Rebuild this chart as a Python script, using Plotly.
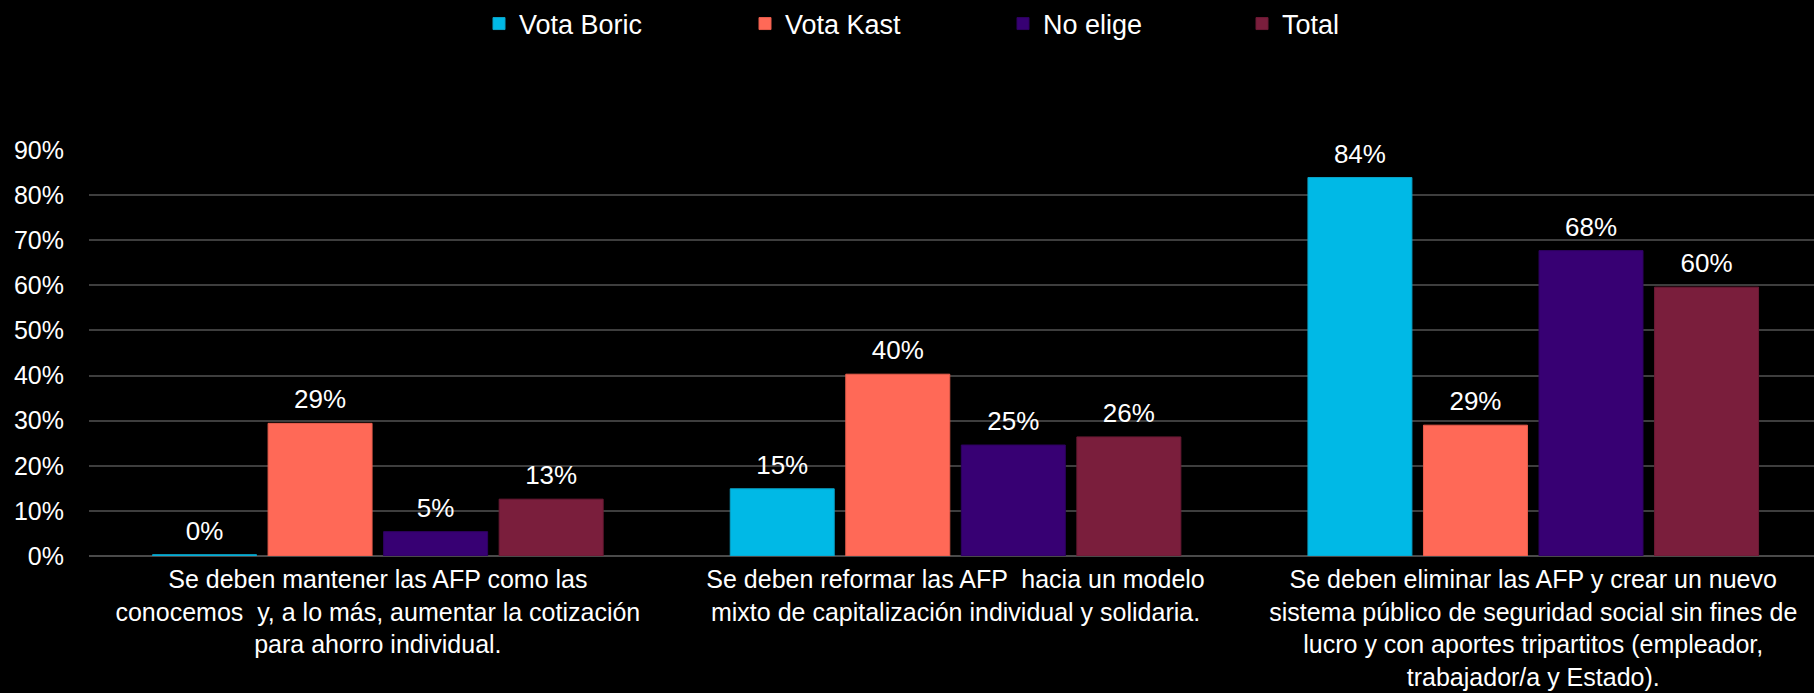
import plotly.graph_objects as go

W, H = 1814, 693

categories = [
    "Se deben mantener las AFP como las<br>conocemos  y, a lo más, aumentar la cotización<br>para ahorro individual.",
    "Se deben reformar las AFP  hacia un modelo<br>mixto de capitalización individual y solidaria.",
    "Se deben eliminar las AFP y crear un nuevo<br>sistema público de seguridad social sin fines de<br>lucro y con aportes tripartitos (empleador,<br>trabajador/a y Estado).",
]
series_names = ["Vota Boric", "Vota Kast", "No elige", "Total"]
vota_boric = [0.003, 0.149, 0.839]
vota_kast = [0.294, 0.403, 0.290]
no_elige = [0.054, 0.246, 0.677]
total = [0.126, 0.264, 0.596]
y_ticks = [0, 0.1, 0.2, 0.3, 0.4, 0.5, 0.6, 0.7, 0.8, 0.9]

series_values = [vota_boric, vota_kast, no_elige, total]
colors = ["#00B9E6", "#FF6957", "#370073", "#7A1E3C"]
line_colors = ["#0AA3C8", "#E85D4C", "#2E0060", "#6A1A34"]
legend_sq_left = [496, 762, 1020, 1259]  # pixel x of legend squares

FONT = "Arial, Liberation Sans, sans-serif"
fig = go.Figure()

for i, (name, vals) in enumerate(zip(series_names, series_values)):
    lname = "legend" if i == 0 else f"legend{i+1}"
    fig.add_trace(go.Bar(
        x=categories, y=vals, name=name,
        marker=dict(color=colors[i], line=dict(color=line_colors[i], width=1)),
        offsetgroup=name, alignmentgroup="g",
        legend=lname,
        hovertemplate="%{y:.0%}<extra>" + name + "</extra>",
    ))

for i, (name, vals) in enumerate(zip(series_names, series_values)):
    fig.add_trace(go.Scatter(
        x=categories, y=vals, mode="markers+text",
        text=[f"{v:.0%}" for v in vals],
        textposition="top center",
        textfont=dict(family=FONT, size=26, color="white"),
        marker=dict(size=12, opacity=0),
        offsetgroup=name, alignmentgroup="g",
        showlegend=False, hoverinfo="skip", cliponaxis=False,
    ))

layout_legends = {}
for i in range(4):
    key = "legend" if i == 0 else f"legend{i+1}"
    layout_legends[key] = dict(
        x=(legend_sq_left[i] - 17) / W, xref="container", xanchor="left",
        y=1 - 24 / H, yref="container", yanchor="middle",
        orientation="h", bgcolor="rgba(0,0,0,0)",
        font=dict(family=FONT, size=27, color="white"),
        itemclick=False, itemdoubleclick=False,
    )

fig.update_layout(
    width=W, height=H,
    paper_bgcolor="black", plot_bgcolor="black",
    font=dict(family=FONT, size=25, color="white"),
    barmode="group", bargap=0.2, bargroupgap=0.1,
    scattermode="group", scattergap=0.2,
    margin=dict(l=89, r=0, t=150, b=137, autoexpand=False),
    showlegend=True,
    **layout_legends,
)
fig.update_xaxes(
    showgrid=False, ticks="", tickfont=dict(family=FONT, size=25, color="white"),
    showline=False, range=[-0.5, 2.486], ticklabelstandoff=6,
)
fig.update_yaxes(
    range=[0, 0.9], tickvals=y_ticks, tickformat=".0%",
    showgrid=True, gridcolor="#3E3E3E", gridwidth=1.5,
    zeroline=True, zerolinecolor="#4A4A4A", zerolinewidth=2,
    ticks="", ticklabelstandoff=24,
    tickfont=dict(family=FONT, size=25, color="white"),
)

fig.write_html(
    "out.html",
    config={"displayModeBar": False},
    post_script="document.body.style.margin='0';document.body.style.background='black';",
)
